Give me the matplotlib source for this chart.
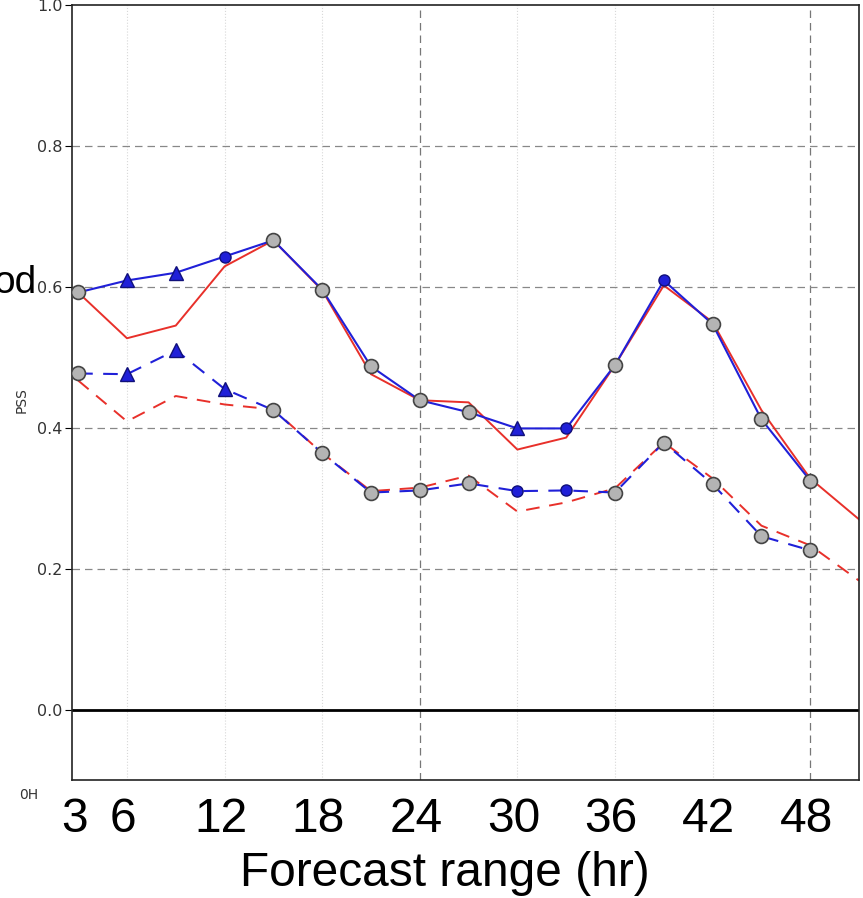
"""PSS by forecast range, two experiments, two thresholds."""
import matplotlib
matplotlib.use('Agg')
import matplotlib.pyplot as plt
import matplotlib.transforms as mtransforms

# Forecast range (hr)
hours = [3, 6, 9, 12, 15, 18, 21, 24, 27, 30, 33, 36, 39, 42, 45, 48]
hours_red = hours + [51]

# PSS values
blue_solid = [0.592, 0.609, 0.620, 0.643, 0.666, 0.596, 0.487, 0.439,
              0.422, 0.399, 0.399, 0.489, 0.609, 0.547, 0.412, 0.325]
red_solid = [0.592, 0.527, 0.545, 0.629, 0.666, 0.595, 0.476, 0.439,
             0.436, 0.369, 0.386, 0.489, 0.602, 0.550, 0.425, 0.328, 0.270]
blue_dash = [0.477, 0.476, 0.510, 0.455, 0.425, 0.364, 0.308, 0.311,
             0.321, 0.310, 0.311, 0.308, 0.379, 0.320, 0.246, 0.226]
red_dash = [0.467, 0.409, 0.445, 0.433, 0.426, 0.364, 0.310, 0.315,
            0.332, 0.281, 0.294, 0.314, 0.379, 0.328, 0.261, 0.233, 0.183]

# marker kind per point of the blue series: c=gray circle, t=triangle, d=dot
solid_marks = ['c', 't', 't', 'd', 'c', 'c', 'c', 'c', 'c', 't', 'd', 'c', 'd', 'c', 'c', 'c']
dash_marks = ['c', 't', 't', 't', 'c', 'c', 'c', 'c', 'c', 'd', 'd', 'c', 'c', 'c', 'c', 'c']

xtick_vals = [3, 6, 12, 18, 24, 30, 36, 42, 48]
major_grid = [24, 48]
minor_grid = [6, 12, 18, 30, 36, 42]
ytick_vals = [0.0, 0.2, 0.4, 0.6, 0.8, 1.0]

BLUE = '#2020d8'
RED = '#e8302a'
big_font = 'Liberation Sans'

fig = plt.figure(figsize=(8.63, 8.98), dpi=100)
ax = fig.add_axes([72 / 863, 1 - 780 / 898, 787 / 863, 775 / 898])

# grid
for x in minor_grid:
    ax.axvline(x, color='#d8d8d8', lw=0.8, ls=':', zorder=0)
for x in major_grid:
    ax.axvline(x, color='#777777', lw=0.9, ls=(0, (6, 4)), zorder=0)
for y in [0.2, 0.4, 0.6, 0.8]:
    ax.axhline(y, color='#888888', lw=0.9, ls=(0, (6, 4)), zorder=0)
ax.axhline(0.0, color='black', lw=2.0, zorder=1)

# lines (red under blue)
ax.plot(hours_red, red_solid, color=RED, lw=1.4, zorder=2)
ax.plot(hours_red, red_dash, color=RED, lw=1.4, ls=(0, (7, 5)), zorder=2)
ax.plot(hours, blue_solid, color=BLUE, lw=1.5, zorder=3)
ax.plot(hours, blue_dash, color=BLUE, lw=1.5, ls=(0, (7, 5)), zorder=3)


def draw_marks(vals, kinds):
    for x, y, k in zip(hours, vals, kinds):
        if k == 'c':
            ax.plot(x, y, 'o', ms=10, mfc='#b4b4b4', mec='#444444', mew=1.2, zorder=5)
        elif k == 't':
            ax.plot(x, y, '^', ms=10, mfc=BLUE, mec='#10107a', mew=1.0, zorder=5)
        else:
            ax.plot(x, y, 'o', ms=8, mfc=BLUE, mec='#10107a', mew=1.0, zorder=5)


draw_marks(blue_solid, solid_marks)
draw_marks(blue_dash, dash_marks)

ax.set_xlim(2.62, 51.0)
ax.set_ylim(-0.1, 1.0)
ax.set_yticks(ytick_vals)
ax.set_yticklabels(['%.1f' % v for v in ytick_vals])
ax.tick_params(axis='y', labelsize=11.5, labelcolor='#333333', length=5,
               direction='out', pad=2)
ax.set_xticks([])
for s in ax.spines.values():
    s.set_color('#222222')
    s.set_linewidth(1.2)

# big overlay labels
trans = mtransforms.blended_transform_factory(ax.transData, ax.transAxes)
shift = mtransforms.ScaledTranslation(-4 / 100, 0, fig.dpi_scale_trans)
for h in xtick_vals:
    ax.text(h, -40 / 775, str(h), transform=trans + shift, ha='center', va='center',
            fontsize=34.5, family=big_font, color='black')
fig.text(445 / 863, 1 - 874 / 898, 'Forecast range (hr)', ha='center', va='center',
         fontsize=34.5, family=big_font)
fig.text(37 / 863, 1 - 293 / 898, 'od', ha='right', va='baseline',
         fontsize=28, family=big_font)
fig.text(22 / 863, 1 - 400 / 898, 'PSS', rotation=90, ha='center', va='center',
         fontsize=10, color='#333333')
fig.text(29 / 863, 1 - 795 / 898, '0H', ha='center', va='center',
         fontsize=10, color='#333333')

fig.savefig('out.png', dpi=100)
